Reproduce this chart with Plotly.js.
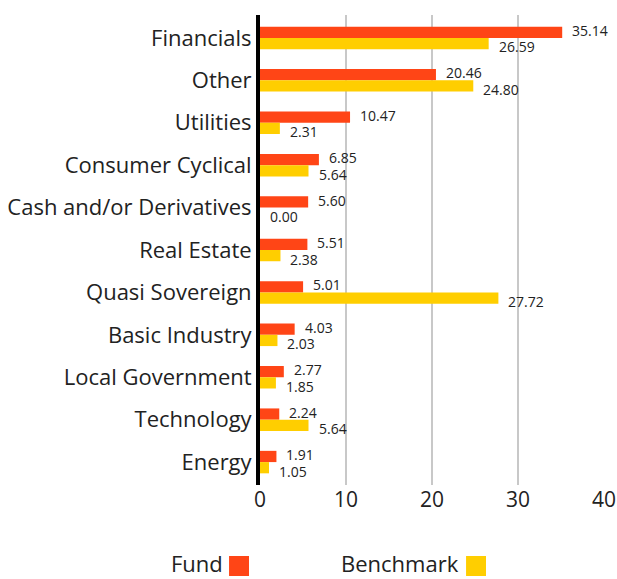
<!DOCTYPE html>
<html><head><meta charset="utf-8">
<script src="https://cdn.plot.ly/plotly-3.0.1.min.js"></script>
<style>html,body{margin:0;padding:0;background:#fff}</style>
</head><body><div id="chart" style="width:617px;height:579px"></div>
<script>
const categories = ["Financials","Other","Utilities","Consumer Cyclical","Cash and/or Derivatives","Real Estate","Quasi Sovereign","Basic Industry","Local Government","Technology","Energy"];
const fundValues = [35.14,20.46,10.47,6.85,5.60,5.51,5.01,4.03,2.77,2.24,1.91];
const benchmarkValues = [26.59,24.80,2.31,5.64,0.00,2.38,27.72,2.03,1.85,5.64,1.05];
const seriesNames = ["Fund","Benchmark"];
const tickVals = [0,10,20,30,40];

const FONT = "Open Sans, sans-serif";
const ORANGE = "#FF4516";
const YELLOW = "#FFCE00";

const traces = [
  {type:"bar", orientation:"h", name:seriesNames[0], y:categories, x:fundValues, marker:{color:ORANGE}, hoverinfo:"x"},
  {type:"bar", orientation:"h", name:seriesNames[1], y:categories, x:benchmarkValues, marker:{color:YELLOW}, hoverinfo:"x"}
];

const annotations = [];
categories.forEach((c,i)=>{
  annotations.push({x:fundValues[i], y:i, xref:"x", yref:"y", text:fundValues[i].toFixed(2), showarrow:false, xanchor:"left", yanchor:"middle", xshift:8, yshift:7.5, font:{family:FONT,size:14,color:"#222"}});
  annotations.push({x:benchmarkValues[i], y:i, xref:"x", yref:"y", text:benchmarkValues[i].toFixed(2), showarrow:false, xanchor:"left", yanchor:"middle", xshift:8, yshift:-9, font:{family:FONT,size:14,color:"#222"}});
});
// custom legend: text followed by square
annotations.push({x:-0.105, y:-0.166, xref:"paper", yref:"paper", text:seriesNames[0], showarrow:false, xanchor:"right", yanchor:"middle", borderpad:0, font:{family:FONT,size:22,color:"#222"}});
annotations.push({x:0.58, y:-0.166, xref:"paper", yref:"paper", text:seriesNames[1], showarrow:false, xanchor:"right", yanchor:"middle", borderpad:0, font:{family:FONT,size:22,color:"#222"}});

const shapes = [
  {type:"rect", xref:"paper", yref:"paper", x0:-0.090, x1:-0.032, y0:-0.151, y1:-0.1936, fillcolor:ORANGE, line:{width:0}},
  {type:"rect", xref:"paper", yref:"paper", x0:0.599, x1:0.657, y0:-0.151, y1:-0.1936, fillcolor:YELLOW, line:{width:0}}
];

const layout = {
  width:617, height:579,
  margin:{l:260, r:13, t:15, b:94, pad:0},
  paper_bgcolor:"#fff", plot_bgcolor:"#fff",
  barmode:"group", bargap:0.47, bargroupgap:0,
  showlegend:false,
  font:{family:FONT, color:"#222"},
  xaxis:{range:[0,40], tickvals:tickVals, showgrid:true, gridcolor:"#c8c8c8", gridwidth:2.5, zeroline:false, showline:false, ticks:"", tickfont:{family:FONT,size:21,color:"#222"}, fixedrange:true},
  yaxis:{range:[10.54,-0.54], type:"category", showgrid:false, zeroline:false, showline:true, linecolor:"#000", linewidth:4, ticks:"", ticklabelstandoff:0, tickfont:{family:FONT,size:22,color:"#222"}, fixedrange:true},
  annotations:annotations,
  shapes:shapes
};
Plotly.newPlot("chart", traces, layout, {displayModeBar:false, staticPlot:true});
</script></body></html>
